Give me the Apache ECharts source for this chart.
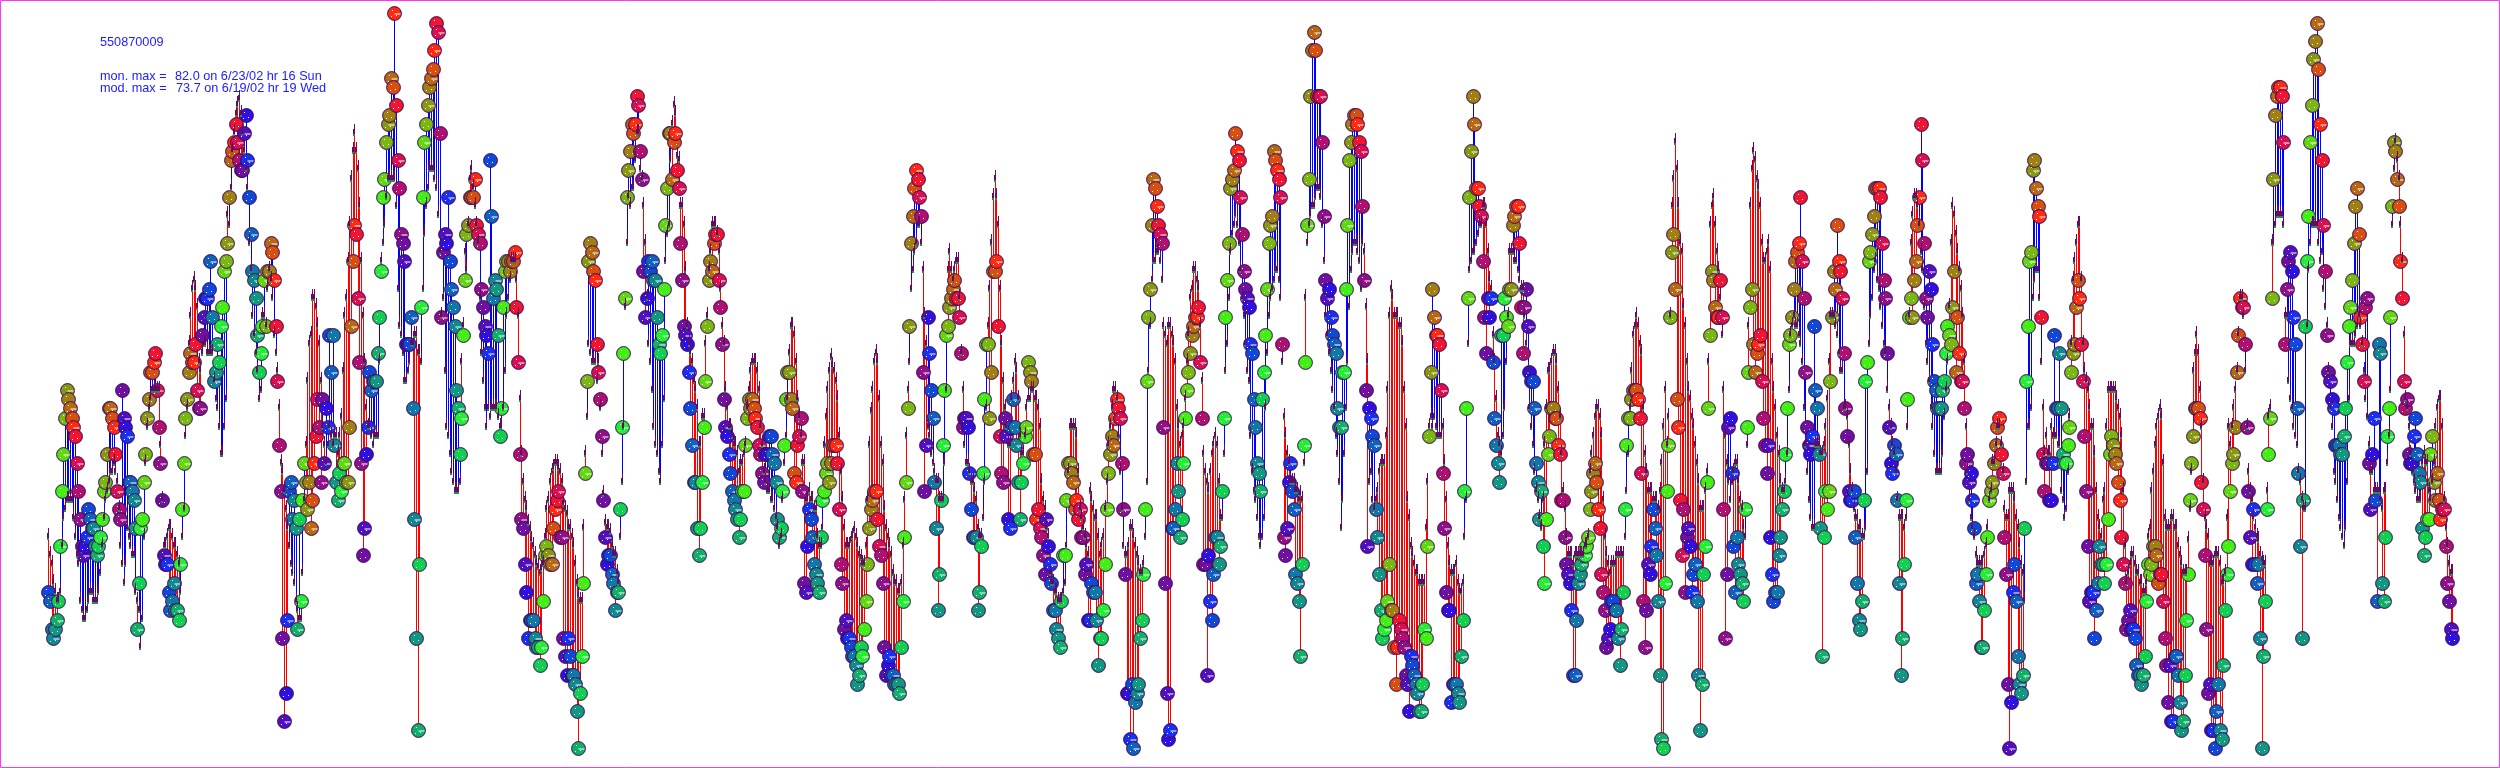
<!DOCTYPE html>
<html><head><meta charset="utf-8">
<style>html,body{margin:0;padding:0;background:#fff}#c{width:2500px;height:768px}</style>
<script src="https://cdn.jsdelivr.net/npm/echarts@6/dist/echarts.min.js"></script>
</head><body><div id="c"></div>
<script>
const siteId = '550870009';
const monLabel = 'mon. max =';
const modLabel = 'mod. max =';
const monMaxText = '82.0 on 6/23/02 hr 16 Sun';
const modMaxText = '73.7 on 6/19/02 hr 19 Wed';
// hourly ozone, ppb, 6/15/02 hr 0 onward, one row per day
const monitor = [
null,19,18,15,14,15,16,18,24,30,34,38,41,40,39,38,37,36,33,30,27,24,23,24,
25,28,27,26,26,24,23,24,25,27,30,31,34,39,39,38,37,34,30,28,27,41,38,37,
36,31,31,30,29,26,15,20,26,27,31,34,38,40,43,43,44,45,41,37,33,29,23,22,
22,19,17,18,20,17,17,16,22,28,33,38,40,43,45,44,44,46,41,39,39,47,49,51,
51,52,55,49,42,43,46,44,48,50,54,55,57,62,66,67,68,70,68,66,65,65,69,71,
66,62,58,54,53,51,47,43,45,48,53,48,54,54,57,56,53,48,42,35,30,14,5,8,
16,30,31,27,29,26,15,27,18,29,33,31,28,31,26,29,33,36,40,37,31,40,33,39,
37,47,43,47,35,31,29,32,30,33,33,31,31,37,48,55,59,58,51,44,33,23,26,34,
37,43,41,42,42,42,45,49,54,62,64,68,70,71,75,74,82,72,66,63,58,57,55,46,
46,46,49,39,27,14,4,22,50,62,68,70,72,74,75,76,78,81,80,69,49,56,58,57,
62,55,52,50,48,41,39,34,38,47,53,58,59,62,62,62,64,59,58,57,52,50,48,47,
45,66,60,51,53,52,47,36,39,50,54,55,55,54,55,55,56,50,44,34,27,26,22,19,
14,16,16,16,14,13,13,11,13,18,23,24,23,22,22,26,28,29,30,25,25,14,12,10,
14,12,10,10,9,6,2,8,12,20,32,42,55,57,56,54,53,46,43,40,36,29,25,22,
23,23,21,20,17,19,19,28,37,45,51,62,65,67,70,69,70,73,72,67,64,54,49,51,
55,54,55,53,53,49,46,45,47,52,59,63,69,69,64,68,69,65,63,57,53,48,47,46,
43,39,35,31,31,26,23,26,31,37,42,48,53,55,54,57,58,58,53,50,46,40,37,36,
34,32,30,29,28,27,25,27,30,30,35,38,40,39,40,39,38,37,35,34,32,31,34,34,
36,36,34,33,31,27,25,26,30,35,40,43,43,40,39,32,31,35,36,38,30,20,19,24,
28,27,25,22,21,20,19,25,29,30,32,33,31,33,35,35,35,33,28,22,20,15,16,14,
14,13,12,12,11,9,10,13,12,15,18,22,26,28,29,30,30,27,24,23,20,13,10,11,
12,10,10,9,9,9,8,13,18,25,31,39,48,57,60,63,65,64,62,60,43,30,35,49,
45,41,38,31,26,17,21,29,35,41,47,48,50,51,52,53,51,51,49,45,37,38,38,37,
32,28,25,25,25,17,19,24,32,40,46,46,38,43,54,54,55,48,36,32,31,38,36,27,
26,37,40,37,35,31,27,31,33,36,37,44,43,42,34,34,27,28,26,25,23,21,27,24,
22,20,17,17,15,14,13,18,23,23,29,33,33,32,31,28,29,27,28,25,25,21,22,16,
16,20,19,19,16,11,14,14,17,22,28,32,34,36,35,38,40,39,38,33,28,21,8,8,
3,9,2,7,8,9,14,16,21,28,42,49,52,59,64,63,61,59,58,57,37,20,8,3,
4,26,26,28,33,30,25,27,33,38,41,43,45,47,48,49,49,50,44,38,22,22,10,23,
18,16,21,25,25,22,24,30,38,49,53,57,63,64,65,69,67,66,62,58,54,52,51,50,
46,45,40,37,33,32,30,40,43,47,52,57,59,60,67,66,65,64,62,46,25,23,26,31,
33,30,28,21,20,18,12,22,35,44,59,64,73,78,80,78,73,73,73,68,60,53,51,52,
49,47,46,45,39,37,37,43,43,52,59,66,68,70,71,71,70,68,67,61,53,41,24,39,
38,36,35,28,25,21,17,14,15,16,18,22,17,17,13,9,13,16,15,14,13,10,9,6,
12,11,10,9,8,6,6,9,15,14,24,36,43,52,49,47,47,46,41,32,26,19,17,17,
7,9,9,9,8,7,12,16,30,39,51,62,67,73,70,63,63,61,60,55,49,45,51,49,
51,44,38,35,33,31,47,47,51,49,48,52,52,59,60,61,61,57,50,45,50,52,48,43,
42,42,39,33,31,27,30,24,20,27,34,36,39,39,38,38,35,34,29,29,25,22,21,20,
17,10,10,16,20,21,22,23,23,24,25,28,30,32,33,31,28,26,21,19,17,13,14,15,
18,18,17,17,14,11,15,19,28,35,38,38,40,41,41,41,40,38,32,18,13,17,22,21,
24,28,26,23,18,10,3,2,20,30,35,49,56,58,52,40,37,29,23,28,19,25,26,24,
19,21,22,18,10,4,9,21,24,31,39,47,54,53,50,49,49,53,49,28,14,21,37,38,
32,24,19,25,22,21,20,18,28,37,43,50,52,46,43,45,46,47,42,38,35,32,35,25,
21,18,19,19,23,25,28,30,34,39,46,47,49,52,55,56,57,62,55,51,43,37,35,34,
36,48,41,39,34,26,12,25,30,28,30,42,49,54,52,59,55,54,51,45,39,36,30,29,
29,30,25,20,16,15,18,29,42,44,55,56,58,60,63,63,63,62,57,53,51,45,37,33,
32,35,34,29,20,10,14,22,29,40,49,51,49,53,55,59,62,70,66,57,51,49,54,52,
46,42,41,39,39,39,41,42,45,48,47,46,50,54,43,49,45,42,42,39,33,34,31,32,
29,26,20,21,18,13,13,17,21,25,29,30,31,33,35,37,38,34,32,25,21,9,2,7,
19,22,18,12,9,8,10,26,42,48,55,56,65,66,63,61,60,49,34,30,33,33,29,29,
33,47,39,39,45,39,34,33,33,35,37,43,45,46,50,53,51,46,42,36,30,24,18,19,
19,14,17,20,24,22,22,20,22,27,34,36,35,34,33,31,29,25,22,20,15,16,17,15,
15,14,11,10,10,9,10,12,18,22,21,22,24,24,23,20,21,21,18,14,11,7,11,5,
5,12,12,10,7,4,5,10,16,21,29,33,36,39,39,39,38,31,28,23,15,8,9,4,
4,2,6,9,4,3,11,17,21,24,30,33,34,37,43,47,51,50,50,46,37,30,25,22,
28,22,20,22,14,2,12,18,28,34,38,51,64,71,73,74,74,73,68,46,52,55,56,54,
49,46,39,32,24,14,29,48,55,60,68,72,77,79,81,76,70,66,59,54,47,43,42,40,
39,35,35,35,34,34,36,39,44,48,50,53,57,61,63,58,49,46,42,50,51,33,28,34,
38,29,18,46,45,20,18,25,36,39,49,61,68,67,64,61,55,51,42,39,40,34,33,33,
36,38,34,32,31,26,23,25,27,27,34,36,31,29,32,29,27,28,28,24,20,18,15,14
];
const model = [
null,26,24,23,21,20,19,19,20,25,28,29,30,30,30,30,28,26,24,23,19,18,17,17,
18,19,20,20,19,19,19,20,22,25,28,30,31,32,33,33,34,33,32,29,25,23,21,23,
27,26,25,24,24,20,19,18,14,17,26,34,38,40,41,42,42,42,42,42,36,30,25,25,
26,27,27,26,25,25,24,23,20,26,29,37,40,47,50,53,54,53,51,45,44,46,47,47,
46,46,46,46,43,41,40,38,35,35,38,41,61,60,64,68,70,72,73,73.7,72,70,68,66,
64,58,55,50,48,46,44,41,42,50,50,49,53,55,54,52,48,46,44,40,34,33,31,29,
27,25,23,22,21,19,18,17,17,22,30,36,43,47,48,52,52,51,49,47,43,38,36,34,
36,38,37,36,37,37,35,37,39,44,50,52,56,60,65,68,70,68,66,62,56,50,45,40,
38,38,37,36,37,37,37,45,56,58,60,63,65,65,65,65,65,62,53,49,48,46,43,43,
44,45,47,47,48,48,46,46,45,53,59,62,64,66,66,66,65,64,61,57,50,52,44,38,
37,35,33,32,31,31,31,32,45,49,57,55,60,65,66,64,62,60,58,52,46,43,40,38,
40,39,40,40,40,40,39,38,38,40,44,50,52,54,56,56,56,54,50,41,35,32,30,29,
27.5,26.7,25.6,25,24,23,22.7,22,22.5,23,26,29,30,32,33,33.5,34,34,33.5,33,32,29.6,29,28.5,
27,27,26,25,23,21,19.5,19,19,27,35,39,47,46,45,45,45,43,45,40,35,30.7,27.5,27,
27,26.5,25,24,24,22,21,26,32,38,51,58,63,62,64,64,67,70,70,66,65,62,58,52,
47,45,42,38,36,35,33,32,36,41,56,59,60,67,71,73,72,67.5,67,62,62,60,55,49,
47,46,45,43,42,40,36,36,39,39,47,50,55,57,60,60,60,59,57,53,49,47,42,40,
38,38,37,36,36,35,33,34,34,35,36,40,42,44,45,45,45,44,42,38,36,33,32,31,
31,30,30,29,28,27,25,26,30,34,37,41,46,49,49,48,45,41,39,37,34,34,30,30,
31,30,30,29,29,26,25,25,27,36,39,42,44,45.6,44.6,44,43,41,37,33,30,27,25,25,
25,25.6,26,26.7,26,25,24,23.7,23,23,25,30,36,39.7,42,45,46,45,41,36,34,29,27,26,
25,24,22,21,21,20,20,21,25,30,37,42,45,53,55,57,58,60,60,58,55,50,47,38,
37,35,34,33,32,32,30,30,30,34,42,55,57,55,54,55,56,56,52,46,42,36,34,34,
33,32,32,31,30,27,26,26,28,32,40,49,53,58,63,65,63,60,53,47,43,40,38,36,
36,41,43,45,44,41,37,35,35,37,40,41,41,42,42,41,41,40,38,32,30,29,27,26,
22,21,21,20,20,19,19,19,20,21,25,33,38,38,38,38,37,33,29,28,27,26,25,24,
31,30,29,28,28,26,24,25,26,29,32,36,38,40,42,42,41,37,33,29,25,24,24,25,
27,27,26,25,24,23,22,22,23,26,32,44,49,54,56,56,57,57,56,54,49,48,47,49,
49,48,47,45,40,38,36,37,38,41,45,48,52,53,55,55,54,53,49,43,35,33,32,31,
33,35,36,37,36,32,28,28,35,44,47,52,57,59,60,61,60,58,55,52,50,47,44,43,
37,33,31,30,28,26,25,26,28,40,46,50,52,53,54,55,55,54,52,45,39,37,35,34,
32,32,32,31,31,30,30.7,30,34,52,58,60,61,62,62,63,64,64,63,60,56,50,48,46,
44,42,40,37,35,32,27,30,35,40,45,51,55,57,58,58,57,56,53,58,57,51,45,32,
33,30,29,30,31,33,34,34,34,37,42,50,53,52,50,50,50,49,49,47,42,38,30,28,
25,24,23,22,22,21,21,21,21,27,32,38,39,38,39,38,37,37,37,38,34,30,25,23,
22,22,22,23,21,20,20,21,26,30,47,55,56,57,57,58,59,60,60,62,62,60,57,54,
53,48,45,41,37,36,35,37,40,45,50,57,57,57,56,56,55,54,53,53,50,47,44,40,
38,36,33,31,30,28,27,30,36,40,44,44,45,46,46,45,42,39,35,31,29,26,24,24,
24,23,24,24,24,24,24,24,25,25,26,33,35,37,39,40,40,39,37,30,26,24,23,22,
23,23,23,24,24,24,24,24,26,31,35,40,44,48,49,50,49,47,46,40,35,33,31,31,
31,30,30,30,29,31,34,38,42,36,39,50,62,65,69,66,62,58,57,51,49,45,42,41,
39,38,36,34,32,29,29,29,31,33,45,60,62,63,60,57,55,52,48,42,37,34,32,30,
32,33,34,34,32,30,29,27,26,36,49,62,66,68,67,65,64,62,58,56,56,57,58,55,
45,42,40,37,35,32,31,31,32,35,42,48,49,50,49,49,48,47,45,40,36,33,30,28,
27,27,36,36,36,35,35,36,38,41,45,50,50,50,49,48,46,44,44,40,40,39,36,33,
31,29,28,28,27,27,26,26,27,33,47,50,52,55,56,54,53,51,49,47,46,42,40,38,
36,35,33,30,28,28,28,27,28,38,50,58,61,63,63,62,60,57,55,51,47,45,43,40,
38,35,33,33,33,33,35,39,42,45,51,58,62,61,59,57,55,53,50,45,38,33,30,28,
27,26,24,23,23,23,23,24,25,27,30,31,34,34,36,38,38,36,33,29,28,28,31,31,
31,30,28,27,25,23,22,19,32,38,38,40,52,54,55,55,52,45,40,35,37,35,35,38,
37,37,37,36,36,31,30,28,29,33,39,47,54,56,58,60,60,54,47,44,43,42,40,38,
38,35,31,28,27,26,30,31,38,42,42,42,42,42,41,40,39,37,31,25,21,22,23,24,
24,23,22,22,21,21,20,20,21,26,27,31,33,36,38,39,40,39,34,28,27,27,27,28,
28,27,27,25,24,23,22,22,22,25.6,29,33,44,46,48,46,42,38,32,28,27,26,23,23,
23,24,24,24,23,21,21,22,28,38,36,38,40,42,44,48,52,52,50,44,38,33,31,30,
28,27,26,25.6,24,23.5,23,23,31,39,40,58,58,60,61,61,61,61,60,50,50,43,41,40,
38,37,36,33,32,30,29,29,49,55,58,60,60,60,60,58,56,57,53,51,49,44,40,38,
33,32,30,28,27,26,25,27,32,41,47,47,47,48,49,50,49,47,44,41,39,36,33,33,
31,31,31,31,30,29,31,31,34,37,42,60,66,69,67,65,60,56,48,41,40,38,35,33,
32,31,30,30,30,34,35,34,34,31,30,32,34,38,40,41,41,38,30,27,25,23,22,22
];
const hourPalette = ['#1a30f0','#1048d8','#1060c0','#1078a8','#108890','#109880','#10b068','#10d050','#20f030','#40f010','#60d810','#78b810','#889810','#a08010','#b86810','#d85010','#ff2a10','#f01530','#d81050','#b01070','#901088','#7010a0','#5010c0','#3010e0'];

const pairs = monitor.map((m,i)=>[i,m,model[i]]).filter(p=>p[1]!=null && p[2]!=null);
const chart = echarts.init(document.getElementById('c'),null,{renderer:'canvas'});
const TICK = 11;
function connector(params, api){
  const i=api.value(0), m=api.value(1), o=api.value(2);
  const a=api.coord([i,m]), b=api.coord([i,o]);
  const x=Math.round(a[0])+0.5, end=b[1]+TICK;
  return {type:'line',shape:{x1:x,y1:a[1],x2:x,y2:end},
    style:{stroke:o>m?'#ff0000':'#0000ff',lineWidth:1}};
}
function marker(params, api){
  const i=api.value(0), m=api.value(1);
  const a=api.coord([i,m]);
  const cx=Math.round(a[0])+0.5, cy=Math.round(a[1])+0.5;
  const kids=[
    {type:'circle',shape:{cx:cx,cy:cy,r:6.9},style:{fill:hourPalette[i%24],stroke:'#3a0a5a',lineWidth:1}},
    {type:'rect',shape:{x:cx-2.5,y:cy-3.5,width:1,height:1},style:{fill:'#ffffff'}},
    {type:'rect',shape:{x:cx+1.5,y:cy+1.5,width:1,height:1},style:{fill:'#ffffff'}},
    {type:'rect',shape:{x:cx-3.5,y:cy+2.5,width:1,height:1},style:{fill:'#ffffff'}}
  ];
  if(i%2===0) kids.push({type:'rect',shape:{x:cx,y:cy,width:6,height:1},style:{fill:'#ffffff'}});
  return {type:'group',children:kids};
}
function tick(params, api){
  const i=api.value(0), o=api.value(2);
  const b=api.coord([i,o]);
  const x=Math.round(b[0]), y=Math.round(b[1]);
  return {type:'group',children:[
    {type:'rect',shape:{x:x,y:y,width:1,height:TICK},style:{fill:'#660a66'}},
    {type:'rect',shape:{x:x-1,y:y+5,width:2,height:TICK-5},style:{fill:'#660a66'}},
    {type:'rect',shape:{x:x-1,y:y+TICK-1,width:2,height:2},style:{fill:'#2a8a50'}}
  ]};
}
chart.setOption({
  animation:false,
  backgroundColor:'#ffffff',
  grid:{left:0,right:0,top:0,bottom:1.5,containLabel:false},
  xAxis:{type:'value',min:-27.92,max:1467.6,show:false},
  yAxis:{type:'value',min:0,max:83.47,show:false},
  tooltip:{show:false},
  series:[
    {type:'custom',data:pairs,renderItem:connector,z:1,silent:true,clip:false},
    {type:'custom',data:pairs,renderItem:marker,z:2,silent:true,clip:false},
    {type:'custom',data:pairs,renderItem:tick,z:3,silent:true,clip:false}
  ],
  graphic:[
    {type:'rect',z:100,silent:true,shape:{x:0.5,y:0.5,width:2499,height:767},style:{fill:'none',stroke:'#ff33ff',lineWidth:1}},
    {type:'text',z:100,left:100,top:36,style:{text:siteId,fill:'#1a1aff',font:'12.7px "Liberation Sans"'}},
    {type:'text',z:100,left:100,top:70,style:{text:monLabel,fill:'#1a1aff',font:'12.7px "Liberation Sans"'}},
    {type:'text',z:100,left:175,top:70,style:{text:monMaxText,fill:'#1a1aff',font:'12.7px "Liberation Sans"'}},
    {type:'text',z:100,left:100,top:82,style:{text:modLabel,fill:'#1a1aff',font:'12.7px "Liberation Sans"'}},
    {type:'text',z:100,left:176,top:82,style:{text:modMaxText,fill:'#1a1aff',font:'12.7px "Liberation Sans"'}}
  ]
});
</script></body></html>
